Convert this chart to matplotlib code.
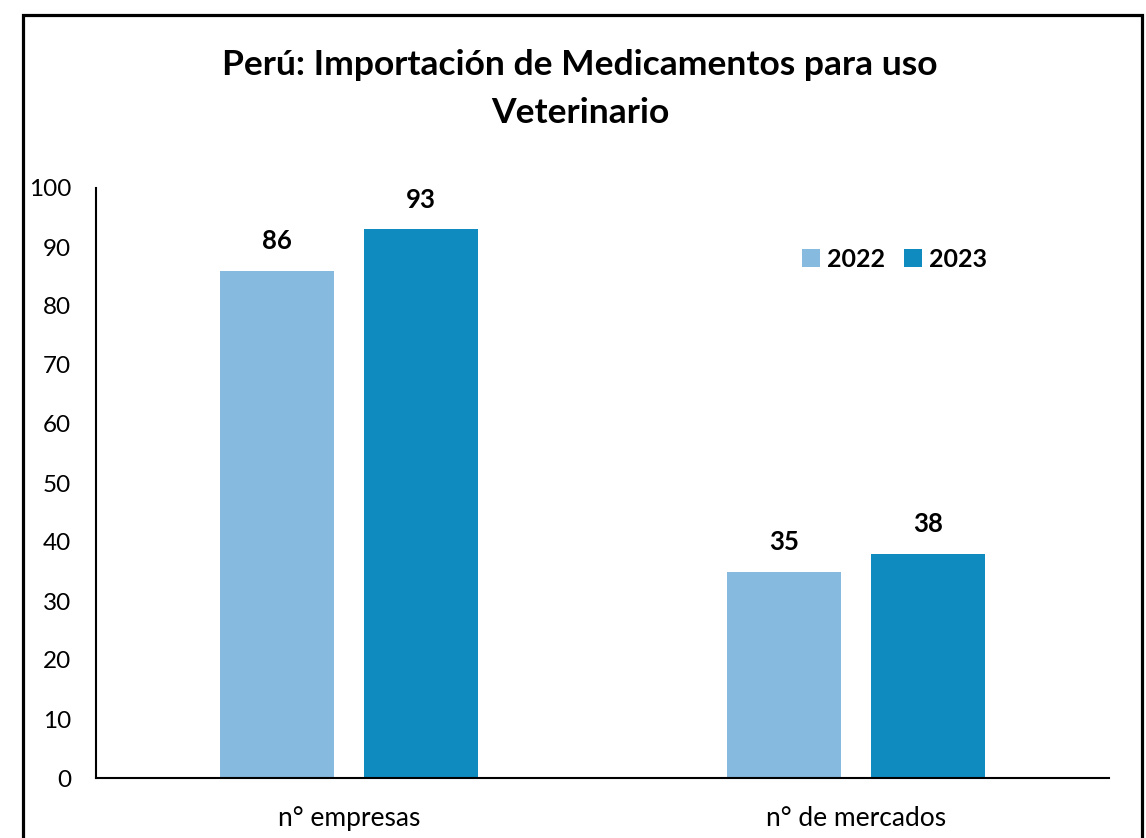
import matplotlib.pyplot as plt
import numpy as np
from matplotlib.patches import Rectangle

# datos
categorias = ["n° empresas", "n° de mercados"]
anios = ["2022", "2023"]
valores_2022 = [86, 35]
valores_2023 = [93, 38]
colores = ["#86BADF", "#0F8BBF"]

plt.rcParams['font.family'] = ['Lato', 'DejaVu Sans']

fig = plt.figure(figsize=(11.46, 8.38), dpi=100)
ax = fig.add_axes([96/1146, 1 - 778/838, (1109-96)/1146, (778-188)/838])

x = np.arange(len(categorias))
ancho = 0.225
desp = 0.142
for serie, vals, col, d in zip(anios, [valores_2022, valores_2023], colores, [-desp, desp]):
    barras = ax.bar(x + d, vals, ancho, color=col, label=serie)
    for b, v in zip(barras, vals):
        ax.text(b.get_x() + b.get_width()/2, v + 3, str(v), ha="center", va="bottom",
                fontsize=18.5, fontweight="bold")

ax.set_xlim(-0.5, 1.5)
ax.set_ylim(0, 100)
ax.set_yticks(range(0, 101, 10))
ax.set_xticks(x)
ax.set_xticklabels(categorias, fontsize=19)
ax.tick_params(axis="y", length=0, labelsize=17.5, pad=18)
ax.tick_params(axis="x", length=0, pad=20)
for s in ["top", "right"]:
    ax.spines[s].set_visible(False)
for s in ["left", "bottom"]:
    ax.spines[s].set_linewidth(1.5)

ax.legend(loc="upper left", bbox_to_anchor=(0.675, 0.937), ncol=2, frameon=False,
          prop={"size": 18, "weight": "bold"}, handlelength=0.7, handleheight=0.7,
          columnspacing=0.75, handletextpad=0.3)

fig.text(0.506, 1 - 89/838, "Perú: Importación de Medicamentos para uso\nVeterinario",
         ha="center", va="center", fontsize=25.5, fontweight="bold", linespacing=1.6)

# marco
fig.patches.append(Rectangle((23/1146, -0.05), (1142-23)/1146, 1.05 - 15/838,
                             transform=fig.transFigure, fill=False, edgecolor="black",
                             linewidth=2.3))

fig.savefig("out.png", dpi=100)
